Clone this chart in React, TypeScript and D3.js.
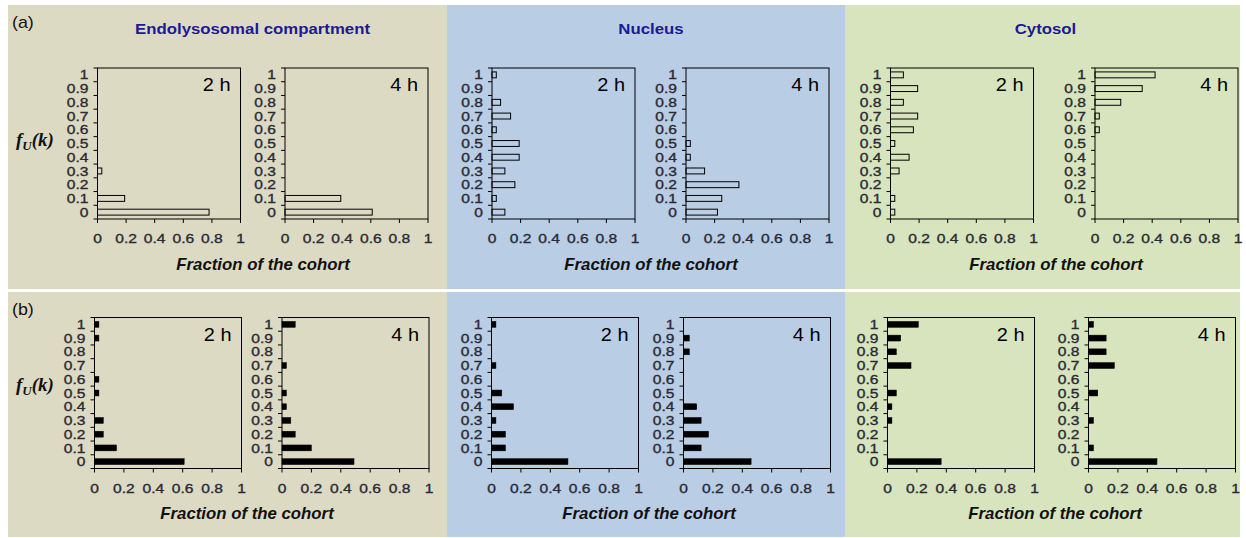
import React, { useEffect, useRef } from 'react';
import * as d3 from 'd3';

// fraction of the cohort per fU(k) class, k = 0, 0.1, ... 1
const kLabels = ['0', '0.1', '0.2', '0.3', '0.4', '0.5', '0.6', '0.7', '0.8', '0.9', '1'];
const xTicks = [0, 0.2, 0.4, 0.6, 0.8, 1];
const compartments = ['Endolysosomal compartment', 'Nucleus', 'Cytosol'];
const times = ['2 h', '4 h'];
const rowLabels = ['(a)', '(b)'];

// row (a)
const endoA2h = [0.78, 0.19, 0, 0.03, 0, 0, 0, 0, 0, 0, 0];
const endoA4h = [0.61, 0.39, 0, 0, 0, 0, 0, 0, 0, 0, 0];
const nucA2h = [0.09, 0.03, 0.16, 0.09, 0.19, 0.19, 0.03, 0.13, 0.06, 0, 0.03];
const nucA4h = [0.22, 0.25, 0.37, 0.13, 0.03, 0.03, 0, 0, 0, 0, 0];
const cytA2h = [0.03, 0.03, 0, 0.06, 0.13, 0.03, 0.16, 0.19, 0.09, 0.19, 0.09];
const cytA4h = [0, 0, 0, 0, 0, 0, 0.03, 0.03, 0.18, 0.33, 0.42];

// row (b)
const endoB2h = [0.61, 0.15, 0.06, 0.06, 0, 0.03, 0.03, 0, 0, 0.03, 0.03];
const endoB4h = [0.49, 0.2, 0.09, 0.06, 0.03, 0.03, 0, 0.03, 0, 0, 0.09];
const nucB2h = [0.52, 0.095, 0.095, 0.03, 0.15, 0.07, 0, 0.03, 0, 0, 0.03];
const nucB4h = [0.46, 0.12, 0.17, 0.12, 0.09, 0, 0, 0, 0.04, 0.04, 0];
const cytB2h = [0.365, 0, 0, 0.03, 0.03, 0.06, 0, 0.16, 0.06, 0.09, 0.21];
const cytB4h = [0.466, 0.034, 0, 0.034, 0, 0.063, 0, 0.176, 0.12, 0.12, 0.034];

const rows = [
	[endoA2h, endoA4h, nucA2h, nucA4h, cytA2h, cytA4h],
	[endoB2h, endoB4h, nucB2h, nucB4h, cytB2h, cytB4h],
];

// layout
const W = 1246, H = 538;
const colBg = ['#dddac4', '#b9cde5', '#d8e4bd'];
const colX = [8, 447, 845, 1240];
const rowY = [[5, 289], [292, 537]];
const plotLeft = [[97.5, 285, 492, 686, 890.5, 1095], [94.5, 282, 491.5, 683.5, 887.5, 1088.5]];
const plotW = [143, 147];
const plotTop = [68, 317.5];
const plotH = 151;
const fracCenter = [[263, 651, 1056], [247, 649, 1055]];
const SX = 1.2; // the figure is stretched sideways

function stext(g, x, y, str, size, opts: any = {}) {
	const sx = opts.sx ?? SX;
	const t = g.append('text')
		.attr('transform', `translate(${x},${y}) scale(${sx},1)`)
		.attr('font-family', opts.family || 'Liberation Sans, Arial, sans-serif')
		.attr('font-size', size)
		.attr('font-weight', opts.weight || 'normal')
		.attr('font-style', opts.style || 'normal')
		.attr('text-anchor', opts.anchor || 'start')
		.attr('fill', opts.fill || '#2a2a35')
		.text(str);
	if (opts.heavy) t.attr('stroke', opts.fill || '#2a2a35').attr('stroke-width', 0.35);
	return t;
}

export default function App() {
	const ref = useRef(null);
	useEffect(() => {
		document.body.style.margin = '0';
		const svg = d3.select(ref.current);
		svg.selectAll('*').remove();

		// backgrounds
		rowY.forEach(([y0, y1]) => {
			colBg.forEach((c, i) => {
				svg.append('rect').attr('x', colX[i]).attr('y', y0)
					.attr('width', colX[i + 1] - colX[i]).attr('height', y1 - y0).attr('fill', c);
			});
		});

		compartments.forEach((c, i) => {
			stext(svg, (colX[i] + colX[i + 1]) / 2 + (i === 0 ? 25 : i === 1 ? 5 : 3), 34, c, 15,
				{ anchor: 'middle', weight: 'bold', fill: '#1b1b94', sx: 1.12 });
		});

		rows.forEach((series, r) => {
			stext(svg, 12, rowY[r][0] + 23, rowLabels[r], 17, { fill: '#111', sx: 1.05 });

			// fU(k)
			const fy = r === 0 ? 146 : 391;
			const ft = svg.append('text').attr('x', 16).attr('y', fy)
				.attr('font-family', 'Liberation Serif, Times New Roman, serif')
				.attr('font-weight', 'bold').attr('font-style', 'italic').attr('font-size', 19).attr('fill', '#111');
			ft.append('tspan').text('f');
			ft.append('tspan').attr('font-size', 13).attr('dy', 4).text('U');
			ft.append('tspan').attr('dy', -4).text('(k)');

			fracCenter[r].forEach(cx => {
				stext(svg, cx, r === 0 ? 270 : 519, 'Fraction of the cohort', 16,
					{ anchor: 'middle', weight: 'bold', style: 'italic', fill: '#111', sx: 1.05 });
			});

			series.forEach((vals, p) => {
				const left = plotLeft[r][p];
				const top = plotTop[r];
				const w = plotW[r];
				const x = d3.scaleLinear().domain([0, 1]).range([0, w]);
				const y = d3.scaleBand().domain(kLabels.slice().reverse()).range([0, plotH])
					.paddingInner(0.57).paddingOuter(0.285);
				const step = y.step();
				const g = svg.append('g').attr('transform', `translate(${left},${top})`);

				// bars
				g.selectAll('rect.bar').data(vals.map((v, i) => ({ k: kLabels[i], v })).filter(d => d.v > 0))
					.enter().append('rect').attr('class', 'bar')
					.attr('x', 0).attr('y', d => y(d.k))
					.attr('width', d => x(d.v)).attr('height', y.bandwidth())
					.attr('fill', r === 0 ? 'none' : '#000')
					.attr('stroke', '#000').attr('stroke-width', r === 0 ? 1 : 0.5);

				// frame
				g.append('rect').attr('x', 0).attr('y', 0).attr('width', w).attr('height', plotH)
					.attr('fill', 'none').attr('stroke', '#000').attr('stroke-width', 1);

				// y ticks between categories
				d3.range(kLabels.length + 1).forEach(i => {
					g.append('line').attr('x1', -4).attr('x2', 0)
						.attr('y1', i * step).attr('y2', i * step).attr('stroke', '#000');
				});
				kLabels.forEach(k => {
					stext(g, -9, y(k) + y.bandwidth() / 2 + 4.6, k, 13, { anchor: 'end', heavy: true });
				});

				// x ticks
				xTicks.forEach(t => {
					g.append('line').attr('x1', x(t)).attr('x2', x(t))
						.attr('y1', plotH).attr('y2', plotH + 4).attr('stroke', '#000');
					stext(g, x(t), plotH + 24, d3.format('~g')(t), 13, { anchor: 'middle', heavy: true });
				});

				stext(g, w - 10, 23, times[p % 2], 19, { anchor: 'end', fill: '#000', sx: 1.05 });
			});
		});
	}, []);
	return <svg ref={ref} width={W} height={H} style={{ display: 'block', background: '#fff' }} />;
}
